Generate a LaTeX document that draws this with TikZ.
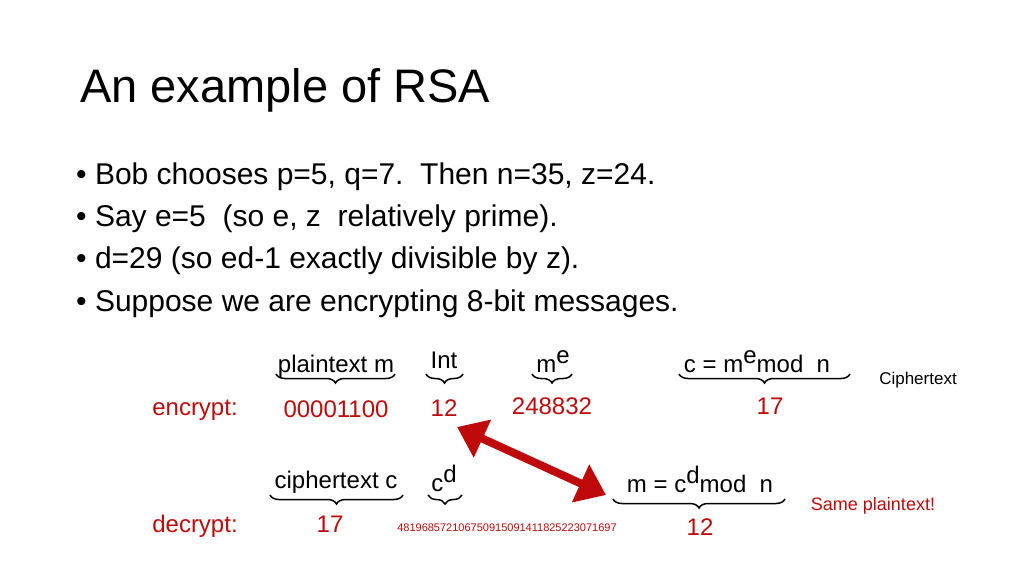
\documentclass[tikz,border=0pt]{standalone}
\usepackage{fontspec}
\setmainfont{Liberation Sans}
\usetikzlibrary{arrows.meta,decorations.pathreplacing}
\definecolor{rsared}{RGB}{190,10,10}

\begin{document}
\begin{tikzpicture}[x=1pt, y=-1pt,
  lbl/.style={anchor=base, inner sep=0pt, font=\fontsize{24}{26}\selectfont},
  val/.style={anchor=base, inner sep=0pt, text=rsared, font=\fontsize{24}{26}\selectfont},
  bullet/.style={anchor=base west, inner sep=0pt, font=\fontsize{30}{32}\selectfont},
  brc/.style={decorate, decoration={brace, mirror, amplitude=9pt}, line width=1.5pt},
  node distance=20mm]
  \useasboundingbox (0,0) rectangle (1024,576);
  \node[anchor=base west, inner sep=0pt, font=\fontsize{47}{50}\selectfont] (title) at (80,102) {An example of RSA};

  \node[bullet] (b1) at (76,184) {\textbullet\ Bob chooses p=5, q=7.\ \ Then n=35, z=24.};
  \node[bullet] (b2) at (76,226) {\textbullet\ Say e=5\ \ (so e, z\ \ relatively prime).};
  \node[bullet] (b3) at (76,268) {\textbullet\ d=29 (so ed-1 exactly divisible by z).};
  \node[bullet] (b4) at (76,311) {\textbullet\ Suppose we are encrypting 8-bit messages.};

  % encrypt row
  \node[lbl] (pm) at (336,372) {plaintext m};
  \node[lbl] (int) at (444,368) {Int};
  \node[lbl] (me) at (553,372) {m\raisebox{9pt}{e}};
  \node[lbl] (cme) at (757,372) {c = m\raisebox{9pt}{e}mod\ \ n};
  \node[anchor=base, inner sep=0pt, font=\fontsize{17}{19}\selectfont] (ct) at (918,384) {Ciphertext};
  \draw[brc] (276,374) -- (395,374);
  \draw[brc] (426,374) -- (463,374);
  \draw[brc] (532,374) -- (572,374);
  \draw[brc] (679,374) -- (850,374);

  \node[val] (enc) at (195,415) {encrypt:};
  \node[val] (v1) at (336,417) {00001100};
  \node[val] (v2) at (444,416) {12};
  \node[val] (v3) at (552,414) {248832};
  \node[val] (v4) at (770,414) {17};

  % decrypt row
  \node[lbl] (cc) at (336,488) {ciphertext c};
  \node[lbl] (cd) at (444,491) {c\raisebox{9pt}{d}};
  \node[lbl] (mcd) at (700,492) {m = c\raisebox{9pt}{d}mod\ \ n};
  \node[anchor=base, inner sep=0pt, text=rsared, font=\fontsize{18}{20}\selectfont] (same) at (873,510) {Same plaintext!};
  \draw[brc] (270,495) -- (403,495);
  \draw[brc] (428,495) -- (462,495);
  \draw[brc] (613,499) -- (785,499);

  \node[val] (dec) at (195,532) {decrypt:};
  \node[val] (w1) at (330,532) {17};
  \node[anchor=base, inner sep=0pt, text=rsared, font=\fontsize{11}{12}\selectfont] (w2) at (507,531) {481968572106750915091411825223071697};
  \node[val] (w3) at (700,535) {12};

  \coordinate (a1) at (457,427);
  \coordinate (a2) at (606,495);
  \draw[rsared, line width=8pt, {Triangle[length=28pt,width=40pt]}-{Triangle[length=28pt,width=40pt]}] (a1) -- (a2);
\end{tikzpicture}
\end{document}
